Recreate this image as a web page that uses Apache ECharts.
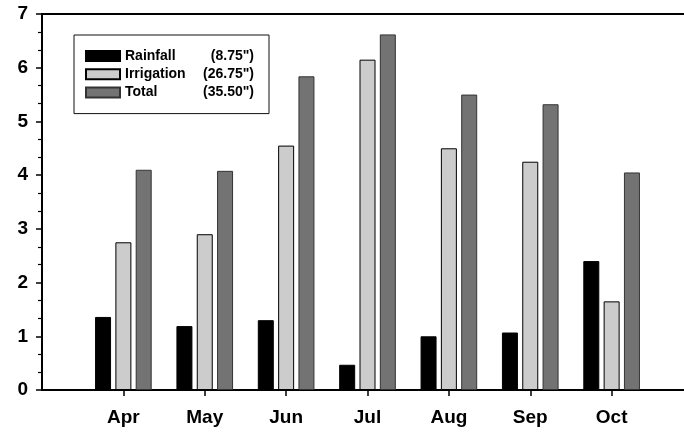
<!DOCTYPE html>
<html>
<head>
<meta charset="utf-8">
<script src="https://cdn.jsdelivr.net/npm/echarts@6/dist/echarts.min.js"></script>
<style>html,body{margin:0;padding:0;background:#fff}#c{width:684px;height:432px}</style>
</head>
<body>
<div id="c"></div>
<script>
var months = ['Apr', 'May', 'Jun', 'Jul', 'Aug', 'Sep', 'Oct'];
var seriesNames = ['Rainfall', 'Irrigation', 'Total'];
var seriesTotals = ['(8.75")', '(26.75")', '(35.50")'];
var rainfall = [1.36, 1.19, 1.30, 0.47, 1.00, 1.07, 2.40];
var irrigation = [2.75, 2.90, 4.55, 6.15, 4.50, 4.25, 1.65];
var total = [4.10, 4.08, 5.84, 6.62, 5.50, 5.32, 4.05];
var yTicks = [0, 1, 2, 3, 4, 5, 6, 7];

var FONT = '"Liberation Sans", Arial, Helvetica, sans-serif';
var cats = [''].concat(months, ['']);
function pad(arr) { return ['-'].concat(arr, ['-']); }
var colors = ['#000000', '#cccccc', '#737373'];
var borders = ['#000000', '#000000', '#333333'];
var values = [rainfall, irrigation, total];

var chart = echarts.init(document.getElementById('c'));
chart.setOption({
  animation: false,
  backgroundColor: '#fff',
  textStyle: { fontFamily: FONT },
  grid: {
    left: 42, right: -9, top: 14, bottom: 42,
    outerBoundsMode: 'none',
    containLabel: false,
    show: true, borderColor: '#000', borderWidth: 2, backgroundColor: 'transparent'
  },
  legend: {
    orient: 'vertical',
    left: 74, top: 35,
    padding: [14, 15, 14, 11],
    backgroundColor: '#fff',
    borderColor: '#111', borderWidth: 1,
    icon: 'rect',
    itemWidth: 34, itemHeight: 10, itemGap: 4.3,
    data: seriesNames,
    formatter: function (name) {
      var i = seriesNames.indexOf(name);
      return '{n|' + name + '}{v|' + seriesTotals[i] + '}';
    },
    textStyle: {
      color: '#000', fontWeight: 'bold', fontSize: 14, fontFamily: FONT,
      rich: {
        n: { width: 62, fontWeight: 'bold', fontSize: 14, fontFamily: FONT, color: '#000', lineHeight: 14.5 },
        v: { width: 67, align: 'right', fontWeight: 'bold', fontSize: 14, fontFamily: FONT, color: '#000', lineHeight: 14.5 }
      }
    }
  },
  xAxis: {
    type: 'category',
    data: cats,
    boundaryGap: false,
    axisLine: { lineStyle: { color: '#000', width: 2 } },
    axisTick: {
      show: true, inside: false, length: 6, alignWithLabel: true,
      interval: function (idx, val) { return val !== ''; },
      lineStyle: { color: '#000', width: 1.5 }
    },
    axisLabel: {
      interval: 0, margin: 18, color: '#000', fontWeight: 'bold', fontSize: 19, fontFamily: FONT
    },
    splitLine: { show: false }
  },
  yAxis: {
    type: 'value',
    min: yTicks[0], max: yTicks[yTicks.length - 1], interval: 1,
    axisLine: { show: true, lineStyle: { color: '#000', width: 2 } },
    axisTick: { show: true, inside: false, length: 6, lineStyle: { color: '#000', width: 1.5 } },
    minorTick: { show: true, splitNumber: 3, length: 4, lineStyle: { color: '#000', width: 1.2 } },
    axisLabel: { margin: 14, color: '#000', fontWeight: 'bold', fontSize: 19, fontFamily: FONT },
    splitLine: { show: false },
    minorSplitLine: { show: false }
  },
  series: seriesNames.map(function (n, i) {
    return {
      name: n,
      type: 'bar',
      data: pad(values[i]),
      barWidth: 16,
      barGap: '27%',
      itemStyle: { color: colors[i], borderColor: borders[i], borderWidth: 1 }
    };
  })
});
</script>
</body>
</html>
